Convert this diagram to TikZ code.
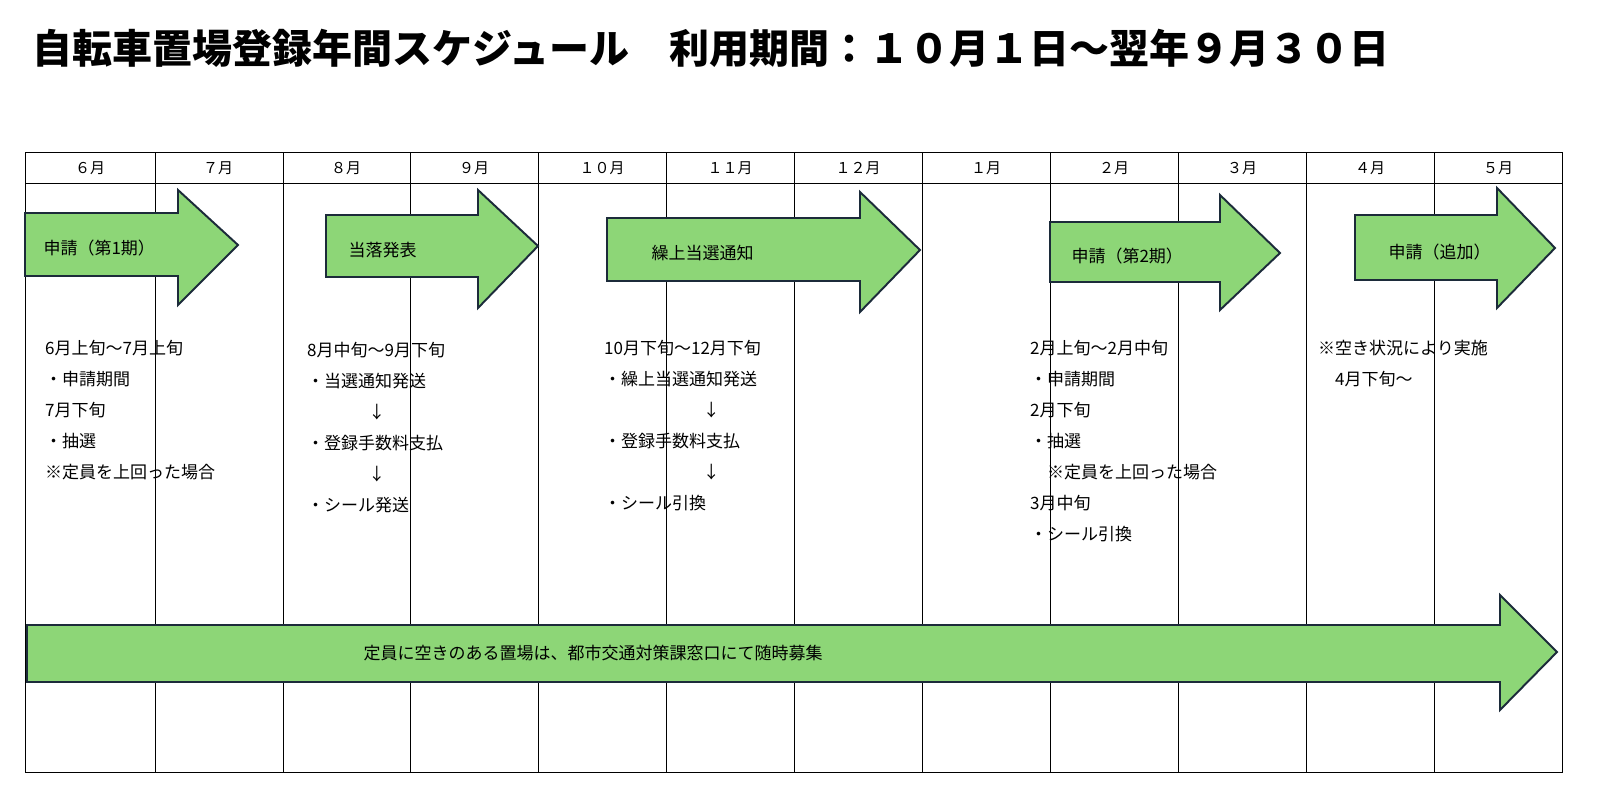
\documentclass[tikz,border=0pt]{standalone}
\usepackage{fontspec}
\setmainfont{Noto Sans CJK JP}
\begin{document}
\begin{tikzpicture}[x=1.0267pt,y=-1.0267pt,every node/.append style={scale=1.0267},
  grid/.style={line width=0.8pt,black},
  arr/.style={fill=arrgreen,draw=arrline,line width=2pt,line join=miter},
  lab/.style={anchor=west,font=\fontsize{17}{17}\selectfont},
  mon/.style={font=\fontsize{15}{15}\selectfont},
  txt/.style={anchor=north west,align=left,font=\fontsize{17}{31}\selectfont,inner sep=0pt}]
\definecolor{arrgreen}{HTML}{8DD677}
\definecolor{arrline}{HTML}{1C2B3A}
\node[anchor=west,font=\bfseries\fontsize{40}{40}\selectfont,inner sep=0pt] (title) at (32,48) {自転車置場登録年間スケジュール\hspace{1em}利用期間：１０月１日～翌年９月３０日};
\draw[grid] (25,152) rectangle (1562,772);
\draw[grid] (25,183) -- (1562,183);
\foreach \x in {155,283,410,538,666,794,922,1050,1178,1306,1434}
  \draw[grid] (\x,152) -- (\x,772);
\foreach \m [count=\i from 0] in {６月,７月,８月,９月,１０月,１１月,１２月,１月,２月,３月,４月,５月}
  \node[mon] (m\i) at (90+\i*128,168) {\m};
\draw[arr] (25,213) -- (178,213) -- (178,190) -- (238,245) -- (178,305) -- (178,276) -- (25,276) -- cycle;
\draw[arr] (326,215) -- (478,215) -- (478,190) -- (538,246) -- (478,308) -- (478,277) -- (326,277) -- cycle;
\draw[arr] (607,218) -- (860,218) -- (860,192) -- (920,250) -- (860,312) -- (860,281) -- (607,281) -- cycle;
\draw[arr] (1050,222) -- (1220,222) -- (1220,195) -- (1280,253) -- (1220,310) -- (1220,282) -- (1050,282) -- cycle;
\draw[arr] (1355,215) -- (1497,215) -- (1497,188) -- (1555,248) -- (1497,308) -- (1497,280) -- (1355,280) -- cycle;
\draw[arr] (27,625) -- (1500,625) -- (1500,595) -- (1557,652) -- (1500,710) -- (1500,682) -- (27,682) -- cycle;
\node[lab] (a1) at (40,248) {申請（第1期）};
\node[lab] (a2) at (345,250) {当落発表};
\node[lab] (a3) at (648,253) {繰上当選通知};
\node[lab] (a4) at (1068,256) {申請（第2期）};
\node[lab] (a5) at (1385,252) {申請（追加）};
\node[lab] (a6) at (360,653) {定員に空きのある置場は、都市交通対策課窓口にて随時募集};
\node[txt] (t1) at (45,340) {6月上旬～7月上旬\\・申請期間\\7月下旬\\・抽選\\※定員を上回った場合};
\node[txt] (t2) at (307,342) {8月中旬～9月下旬\\・当選通知発送\\\hspace{3.6em}↓\\・登録手数料支払\\\hspace{3.6em}↓\\・シール発送};
\node[txt] (t3) at (604,340) {10月下旬～12月下旬\\・繰上当選通知発送\\\hspace{5.8em}↓\\・登録手数料支払\\\hspace{5.8em}↓\\・シール引換};
\node[txt] (t4) at (1030,340) {2月上旬～2月中旬\\・申請期間\\2月下旬\\・抽選\\\hspace{1em}※定員を上回った場合\\3月中旬\\・シール引換};
\node[txt] (t5) at (1318,340) {※空き状況により実施\\\hspace{1em}4月下旬～};
\pgfresetboundingbox
\path[use as bounding box] (0,0) rectangle (1610,795);
\end{tikzpicture}
\end{document}
